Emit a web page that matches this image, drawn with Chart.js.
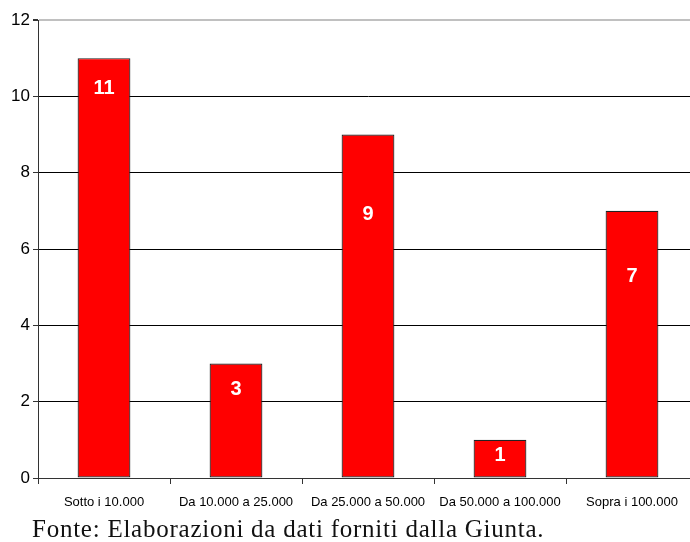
<!DOCTYPE html>
<html>
<head>
<meta charset="utf-8">
<script src="https://cdn.jsdelivr.net/npm/chart.js@4.4.1/dist/chart.umd.min.js"></script>
<style>
  html, body { margin: 0; padding: 0; background: #fff; overflow: hidden; width: 690px; height: 542px; }
  #wrap { position: absolute; left: 0; top: 0; width: 700px; height: 542px; }
  #caption { position: absolute; left: 32px; top: 514px; font-family: "Liberation Serif", "DejaVu Serif", serif; font-size: 25px; letter-spacing: 0.75px; color: #111; white-space: nowrap; line-height: 30px; }
</style>
</head>
<body>
<div id="wrap"><canvas id="c" width="700" height="542"></canvas></div>
<div id="caption">Fonte: Elaborazioni da dati forniti dalla Giunta.</div>
<script>
const categories = ["Sotto i 10.000", "Da 10.000 a 25.000", "Da 25.000 a 50.000", "Da 50.000 a 100.000", "Sopra i 100.000"];
const values = [11, 3, 9, 1, 7];
const yTicks = [0, 2, 4, 6, 8, 10, 12];

const labelPlugin = {
  id: 'barLabels',
  afterDatasetsDraw(chart, args, opts) {
    const ctx = chart.ctx;
    const meta = chart.getDatasetMeta(0);
    const y = chart.scales.y;
    ctx.save();
    ctx.fillStyle = '#fff';
    ctx.font = 'bold 20px "Liberation Sans", Arial, sans-serif';
    ctx.textAlign = 'center';
    ctx.textBaseline = 'middle';
    meta.data.forEach((bar, i) => {
      ctx.fillText(String(values[i]), bar.x, y.getPixelForValue(opts.anchors[i]));
    });
    ctx.restore();
  }
};

new Chart(document.getElementById('c'), {
  type: 'bar',
  data: {
    labels: categories,
    datasets: [{
      data: values,
      backgroundColor: '#ff0000',
      borderColor: '#222222',
      borderWidth: 1.2,
      borderSkipped: false,
      barPercentage: 0.4,
      categoryPercentage: 1.0
    }]
  },
  options: {
    responsive: false,
    animation: false,
    layout: { padding: { top: 20, right: 2, left: 0, bottom: 0 } },
    plugins: {
      legend: { display: false },
      tooltip: { enabled: false },
      barLabels: { anchors: [10.2, 2.33, 6.9, 0.6, 5.27] }
    },
    scales: {
      x: {
        offset: true,
        grid: { display: true, drawOnChartArea: false, offset: true, tickLength: 6, color: '#333' },
        border: { display: true, color: '#333' },
        ticks: { color: '#000', font: { family: '"Liberation Sans", Arial, sans-serif', size: 13 }, padding: 11, maxRotation: 0, autoSkip: false },
        afterFit(s) { s.height = 64; }
      },
      y: {
        min: 0, max: 12,
        afterBuildTicks(s) { s.ticks = yTicks.map(v => ({ value: v })); },
        grid: {
          color: (c) => c.tick && c.tick.value === 12 ? '#c0c0c0' : '#000',
          lineWidth: (c) => c.tick && c.tick.value === 12 ? 2 : 1,
          tickColor: '#333',
          tickLength: 5
        },
        border: { display: true, color: '#333' },
        ticks: { color: '#000', font: { family: '"Liberation Sans", Arial, sans-serif', size: 17 }, padding: 3 },
        afterFit(s) { s.width = 38; }
      }
    }
  },
  plugins: [labelPlugin]
});
</script>
</body>
</html>
